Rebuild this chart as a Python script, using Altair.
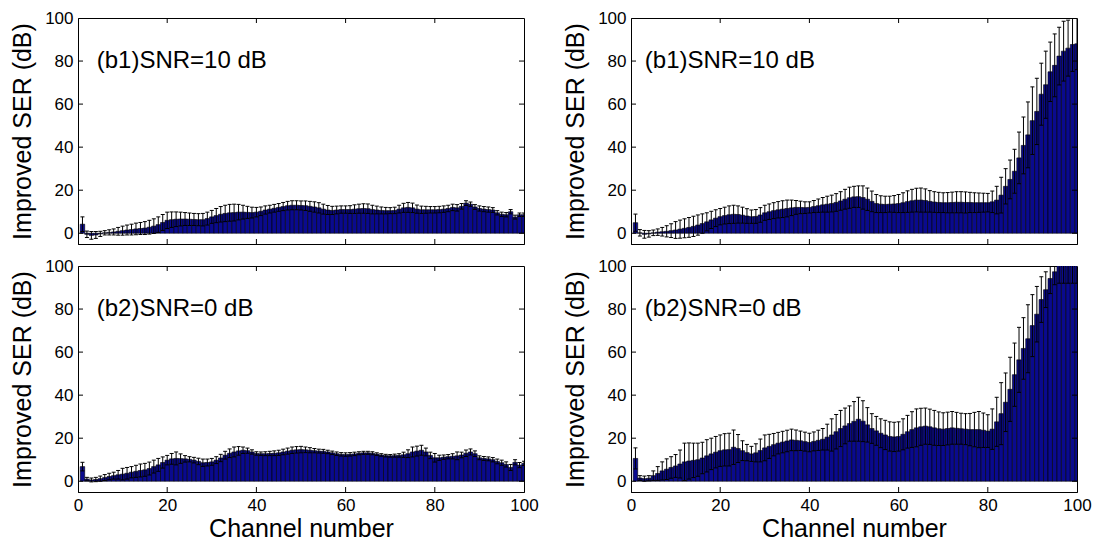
import altair as alt
import pandas as pd

channels = list(range(1, 101))

tl_mean = [4.2, -0.5, -1.0, -0.8, -0.3, 0.2, 0.4, 0.6, 0.9, 1.2,
           1.5, 1.7, 2.0, 2.2, 2.4, 2.8, 3.3, 4.0, 5.0, 6.0,
           6.3, 6.5, 6.6, 6.6, 6.5, 6.4, 6.3, 6.3, 6.8, 7.6,
           8.2, 8.8, 9.2, 9.5, 9.6, 9.8, 9.8, 9.7, 9.6, 9.8,
           10.2, 10.8, 11.2, 11.6, 12.0, 12.4, 12.8, 13.0, 13.0, 12.9,
           12.8, 12.5, 12.2, 11.8, 11.2, 10.8, 10.6, 10.8, 11.0, 11.0,
           11.0, 11.2, 11.4, 11.5, 11.4, 11.0, 10.8, 10.6, 10.5, 10.5,
           10.6, 11.2, 11.8, 12.0, 11.8, 11.2, 10.9, 10.9, 10.9, 10.9,
           11.0, 11.2, 11.5, 12.0, 11.8, 12.5, 14.0, 13.5, 12.2, 11.5,
           11.2, 11.0, 10.8, 9.5, 8.8, 8.6, 10.0, 7.5, 8.6, 8.6]
tl_std = [3.4, 1.5, 1.8, 1.6, 1.2, 1.0, 1.2, 1.4, 1.8, 2.1,
          2.3, 2.5, 2.7, 2.8, 3.0, 3.2, 3.4, 3.6, 3.7, 3.8,
          3.6, 3.4, 3.2, 3.0, 2.9, 2.8, 2.8, 2.9, 3.0, 3.0,
          3.3, 3.6, 3.8, 3.9, 3.9, 3.6, 3.2, 2.8, 2.5, 2.2,
          2.0, 1.9, 1.8, 1.8, 1.8, 1.9, 2.0, 2.1, 2.1, 2.1,
          2.2, 2.3, 2.4, 2.4, 2.3, 2.1, 1.9, 1.8, 1.7, 1.7,
          1.8, 2.0, 2.1, 2.2, 2.2, 2.0, 1.8, 1.6, 1.5, 1.4,
          1.5, 1.8, 2.1, 2.3, 2.2, 1.9, 1.7, 1.6, 1.5, 1.5,
          1.5, 1.5, 1.5, 1.5, 1.5, 1.3, 1.1, 1.0, 1.1, 1.2,
          1.2, 1.2, 1.1, 1.0, 1.0, 1.0, 1.0, 0.9, 0.8, 0.8]

tr_mean = [4.9, 0.2, -0.5, -0.3, 0.2, 0.5, 0.7, 0.9, 1.2, 1.5,
           1.9, 2.3, 2.7, 3.2, 3.8, 4.5, 5.3, 6.2, 7.0, 7.7,
           8.2, 8.6, 8.8, 8.7, 8.4, 8.0, 7.7, 7.8, 8.5, 9.5,
           10.0, 10.5, 10.9, 11.2, 11.5, 11.8, 12.0, 12.0, 11.9, 12.0,
           12.4, 12.8, 13.2, 13.5, 13.8, 14.3, 15.0, 15.8, 16.5, 16.9,
           17.0, 16.6, 15.8, 14.8, 13.8, 13.5, 13.4, 13.5, 13.6, 13.8,
           14.2, 14.7, 15.1, 15.4, 15.4, 15.2, 14.8, 14.5, 14.3, 14.2,
           14.2, 14.3, 14.4, 14.4, 14.3, 14.3, 14.2, 14.2, 14.2, 14.2,
           14.6, 15.4, 17.7, 21.8, 25.0, 28.8, 35.0, 40.8, 45.7, 52.3,
           56.6, 64.6, 69.0, 75.0, 78.0, 82.3, 84.6, 86.0, 87.7, 88.0]
tr_std = [4.0, 1.5, 1.8, 1.5, 1.3, 1.5, 2.0, 2.6, 3.2, 3.9,
          4.2, 4.4, 4.6, 4.7, 4.7, 4.5, 4.2, 4.0, 3.9, 3.8,
          3.9, 4.1, 4.2, 4.0, 3.7, 3.4, 3.1, 3.2, 3.4, 3.5,
          3.6, 3.7, 3.8, 3.9, 3.9, 3.6, 3.2, 2.9, 2.7, 2.6,
          2.8, 3.1, 3.4, 3.7, 3.9, 4.1, 4.3, 4.6, 4.9, 4.9,
          5.0, 5.4, 5.2, 4.8, 4.2, 3.9, 3.8, 3.7, 3.9, 4.2,
          4.6, 5.0, 5.3, 5.5, 5.6, 5.4, 5.0, 4.8, 4.7, 4.6,
          4.7, 4.8, 4.9, 4.9, 4.9, 4.7, 4.6, 4.5, 4.4, 4.3,
          5.0, 6.4, 8.3, 8.2, 9.0, 10.2, 12.0, 13.2, 15.3, 15.7,
          15.4, 14.4, 15.6, 13.8, 14.6, 13.4, 13.9, 13.0, 12.5, 12.0]

bl_mean = [6.8, 1.0, 0.6, 0.8, 1.2, 1.7, 2.2, 2.6, 3.0, 3.3,
           3.7, 4.2, 4.6, 5.0, 5.3, 5.9, 6.8, 7.6, 8.7, 9.8,
           10.4, 10.6, 10.5, 10.4, 10.2, 9.8, 9.2, 8.6, 8.7, 9.0,
           9.8, 10.8, 12.1, 13.0, 13.6, 14.1, 14.4, 14.2, 13.6, 12.9,
           12.8, 12.8, 12.9, 13.0, 13.2, 13.6, 14.0, 14.4, 14.6, 14.7,
           14.6, 14.4, 14.2, 14.0, 13.9, 13.6, 13.2, 12.8, 12.5, 12.4,
           12.5, 12.7, 13.0, 13.2, 13.2, 13.0, 12.6, 12.2, 11.9, 11.8,
           11.9, 12.0, 12.3, 12.8, 13.6, 14.0, 14.4, 13.6, 12.0, 10.9,
           10.9, 11.2, 11.4, 11.6, 11.8, 12.2, 13.0, 13.6, 12.8, 10.9,
           10.6, 10.4, 10.0, 9.2, 8.6, 7.8, 6.4, 8.8, 7.5, 8.3]
bl_std = [2.0, 0.8, 0.9, 1.0, 1.2, 1.4, 1.5, 1.6, 2.0, 2.7,
          2.7, 2.6, 2.8, 3.0, 3.0, 3.0, 3.0, 3.0, 2.6, 2.2,
          2.5, 3.0, 2.2, 1.5, 1.2, 1.3, 1.5, 1.7, 1.6, 1.6,
          1.6, 1.7, 1.8, 2.0, 2.3, 2.0, 1.5, 1.2, 1.0, 0.8,
          0.8, 0.9, 1.0, 1.1, 1.2, 1.3, 1.4, 1.5, 1.5, 1.5,
          1.3, 1.2, 1.0, 0.9, 0.9, 0.8, 0.8, 0.8, 0.8, 0.8,
          0.8, 0.8, 0.7, 0.7, 0.7, 0.7, 0.6, 0.6, 0.6, 0.6,
          0.7, 0.8, 1.2, 1.8, 2.3, 2.3, 2.3, 1.8, 1.5, 2.0,
          1.2, 1.0, 1.0, 1.2, 1.8, 1.3, 1.5, 1.4, 1.3, 0.9,
          0.9, 0.9, 1.0, 1.1, 1.2, 1.2, 1.4, 1.2, 1.2, 1.0]

br_mean = [10.6, 1.5, 1.2, 1.4, 2.6, 3.6, 4.8, 5.6, 6.4, 7.1,
           8.0, 9.0, 9.4, 9.7, 10.0, 10.8, 11.8, 12.7, 13.5, 14.2,
           14.6, 14.7, 15.8, 15.2, 14.2, 13.3, 12.7, 13.2, 14.3, 15.5,
           16.2, 17.0, 17.7, 18.2, 18.7, 19.2, 19.0, 18.8, 18.4, 18.0,
           18.5, 19.0, 19.5, 20.5, 21.5, 23.0, 24.5, 25.7, 26.8, 27.8,
           28.8, 27.9, 26.2, 24.5, 23.4, 22.3, 21.5, 20.8, 20.6, 20.8,
           21.8, 23.0, 24.0, 24.8, 25.3, 25.6, 25.3, 24.8, 24.4, 24.2,
           24.5, 24.8, 24.6, 24.4, 24.2, 24.0, 24.0, 24.0, 23.7, 23.3,
           24.2, 27.6, 31.4, 36.7, 42.7, 49.5, 56.4, 61.7, 66.2, 72.3,
           77.6, 84.4, 89.0, 94.2, 97.3, 101.0, 103.0, 104.0, 105.0, 106.0]
br_std = [4.9, 1.1, 1.2, 1.2, 2.2, 3.2, 4.2, 4.8, 5.0, 5.3,
          6.5, 8.7, 8.4, 8.0, 7.7, 7.3, 7.5, 7.3, 7.3, 7.3,
          7.5, 7.6, 8.0, 6.5, 4.6, 3.8, 3.5, 4.2, 5.3, 6.0,
          5.6, 5.2, 5.0, 5.0, 5.0, 5.0, 4.8, 4.5, 4.4, 4.3,
          4.4, 4.7, 5.0, 6.0, 7.5, 8.0, 8.4, 8.3, 8.2, 9.2,
          10.2, 9.5, 8.0, 6.9, 6.7, 6.7, 6.8, 6.8, 6.8, 6.8,
          7.2, 7.6, 8.3, 8.8, 8.6, 8.4, 8.2, 8.1, 7.8, 7.6,
          7.6, 7.6, 7.4, 7.2, 7.2, 7.5, 8.0, 8.4, 8.0, 7.6,
          9.4, 11.4, 14.4, 13.6, 14.9, 14.7, 15.1, 14.3, 15.8, 14.4,
          12.9, 10.6, 8.3, 7.0, 6.0, 9.0, 11.0, 12.0, 13.0, 14.0]

axis_ticks = [0, 20, 40, 60, 80, 100]
inner_ticks = [20, 40, 60, 80]
panel_labels = ["(b1)SNR=10 dB", "(b1)SNR=10 dB", "(b2)SNR=0 dB", "(b2)SNR=0 dB"]
label_xs = [4.2, 3.1, 4.2, 3.1]
label_y = 80

FONT = "Liberation Sans"
W, H = 446, 226
BAR_FILL = "#0a0a8e"


def panel(mean, std, label, label_x, show_x):
    df = pd.DataFrame({"ch": channels, "m": mean, "s": std})
    xs = alt.Scale(domain=[0, 100], nice=False, zero=False, padding=0)
    ys = alt.Scale(domain=[-5, 100], nice=False, zero=False, padding=0)
    base = alt.Chart(df).transform_calculate(
        lo="datum.m - datum.s",
        hi="datum.m + datum.s",
        xa="datum.ch - 0.5",
        xb="datum.ch + 0.5",
        ca="datum.ch - 0.45",
        cb="datum.ch + 0.45",
        zero="0",
    )
    if show_x:
        xaxis = alt.Axis(values=axis_ticks, ticks=False, grid=False, labelPadding=5,
                         labelFlush=False, title="Channel number", titlePadding=3)
    else:
        xaxis = alt.Axis(values=axis_ticks, ticks=False, grid=False, labels=False,
                         labelFlush=False, title=None)
    yaxis = alt.Axis(values=axis_ticks, ticks=False, grid=False, labelPadding=5,
                     title="Improved SER (dB)", titlePadding=9)

    def X(f):
        return alt.X(f, scale=xs, axis=xaxis)

    def Y(f):
        return alt.Y(f, scale=ys, axis=yaxis)

    bars = base.mark_bar(fill=BAR_FILL, stroke="black", strokeWidth=0.6, clip=True).encode(
        x=X("xa:Q"), x2="xb:Q", y=Y("m:Q"), y2="zero:Q",
    )
    whisk = base.mark_rule(color="black", strokeWidth=1, clip=True).encode(
        x=X("ch:Q"), y=Y("lo:Q"), y2="hi:Q",
    )
    cap_hi = base.mark_rule(color="black", strokeWidth=1, clip=True).encode(
        x=X("ca:Q"), x2="cb:Q", y=Y("hi:Q"),
    )
    cap_lo = base.mark_rule(color="black", strokeWidth=1, clip=True).encode(
        x=X("ca:Q"), x2="cb:Q", y=Y("lo:Q"),
    )
    tdf = pd.DataFrame({"v": inner_ticks})
    ydf = pd.DataFrame({"v": inner_ticks + [0]})
    xt_bottom = alt.Chart(tdf).mark_rule(color="black", strokeWidth=1).encode(
        x=X("v:Q"), y=alt.value(H), y2=alt.value(H - 5))
    xt_top = alt.Chart(tdf).mark_rule(color="black", strokeWidth=1).encode(
        x=X("v:Q"), y=alt.value(0), y2=alt.value(5))
    yt_left = alt.Chart(ydf).mark_rule(color="black", strokeWidth=1).encode(
        y=Y("v:Q"), x=alt.value(0), x2=alt.value(5))
    yt_right = alt.Chart(ydf).mark_rule(color="black", strokeWidth=1).encode(
        y=Y("v:Q"), x=alt.value(W), x2=alt.value(W - 5))
    ldf = pd.DataFrame({"x": [label_x], "y": [label_y], "t": [label]})
    txt = alt.Chart(ldf).mark_text(align="left", baseline="middle", fontSize=24,
                                   font=FONT, color="black").encode(
        x=X("x:Q"), y=Y("y:Q"), text="t:N",
    )
    return alt.layer(bars, whisk, cap_hi, cap_lo, xt_bottom, xt_top, yt_left,
                     yt_right, txt).properties(width=W, height=H)


p1 = panel(tl_mean, tl_std, panel_labels[0], label_xs[0], False)
p2 = panel(tr_mean, tr_std, panel_labels[1], label_xs[1], False)
p3 = panel(bl_mean, bl_std, panel_labels[2], label_xs[2], True)
p4 = panel(br_mean, br_std, panel_labels[3], label_xs[3], True)

chart = alt.concat(p1, p2, p3, p4, columns=2, bounds="flush",
                   spacing={"row": 22, "column": 107}).properties(
    padding={"left": 2, "top": 0, "right": 0, "bottom": 0}
).configure_view(
    stroke="black", strokeWidth=1
).configure_axis(
    domainColor="black", domainWidth=1, labelColor="black", titleColor="black",
    labelFont=FONT, titleFont=FONT, labelFontSize=17, titleFontSize=25,
    titleFontWeight="normal"
)

chart.save("out.html", embed_options={"renderer": "svg", "actions": False})
